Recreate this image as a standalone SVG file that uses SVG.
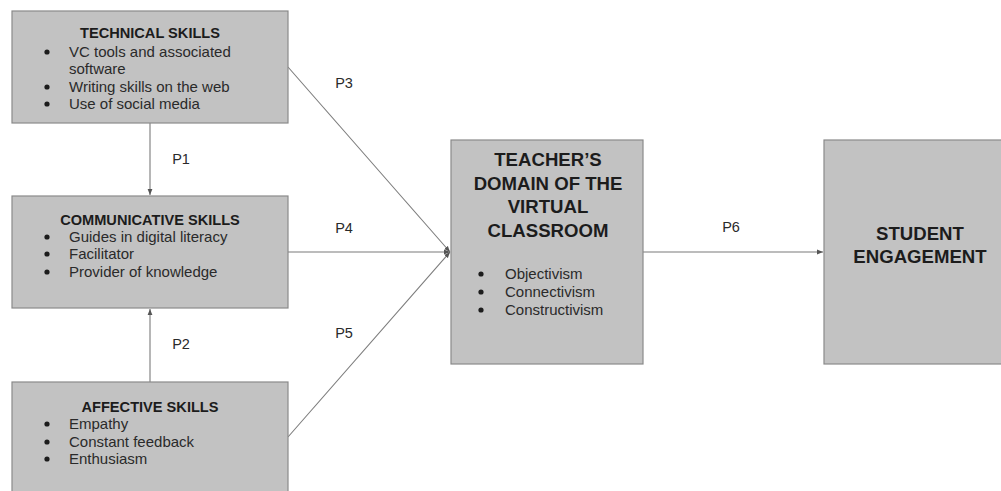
<svg xmlns="http://www.w3.org/2000/svg" width="1001" height="491" viewBox="0 0 1001 491">
  <defs>
    <marker id="arrow" viewBox="0 0 6 6" refX="6" refY="3" markerWidth="6" markerHeight="6" orient="auto" markerUnits="userSpaceOnUse">
      <path d="M0,0.6 L6,3 L0,5.4 z" fill="#555"/>
    </marker>
    <style>
      .box { fill: #c2c2c2; stroke: #8a8a8a; stroke-width: 1.2; }
      .title { font-family: "Liberation Sans", Arial, sans-serif; font-weight: bold; font-size: 14.6px; fill: #1c1c1c; text-anchor: middle; }
      .big { font-family: "Liberation Sans", Arial, sans-serif; font-weight: bold; font-size: 18.6px; fill: #1c1c1c; text-anchor: middle; }
      .item { font-family: "Liberation Sans", Arial, sans-serif; font-size: 15px; fill: #2a2a2a; }
      .dot { fill: #1c1c1c; }
      .lbl { font-family: "Liberation Sans", Arial, sans-serif; font-size: 14.5px; fill: #2a2a2a; text-anchor: middle; }
      .edge { stroke: #7a7a7a; stroke-width: 1.1; fill: none; }
    </style>
  </defs>
  <rect width="1001" height="491" fill="#ffffff"/>

  <!-- connectors -->
  <g id="connectors">
    <line class="edge" x1="150" y1="123" x2="150" y2="195" marker-end="url(#arrow)"/>
    <line class="edge" x1="150" y1="382" x2="150" y2="309" marker-end="url(#arrow)"/>
    <line class="edge" x1="288" y1="67" x2="450" y2="252" marker-end="url(#arrow)"/>
    <line class="edge" x1="288" y1="252" x2="450" y2="252" marker-end="url(#arrow)"/>
    <line class="edge" x1="288" y1="437" x2="450" y2="252" marker-end="url(#arrow)"/>
    <line class="edge" x1="643" y1="252" x2="823" y2="252" marker-end="url(#arrow)"/>
    <text class="lbl" x="181" y="164">P1</text>
    <text class="lbl" x="181" y="349">P2</text>
    <text class="lbl" x="344" y="88">P3</text>
    <text class="lbl" x="344" y="233">P4</text>
    <text class="lbl" x="344" y="338">P5</text>
    <text class="lbl" x="731" y="232">P6</text>
  </g>

  <!-- technical skills -->
  <g id="technical">
    <rect class="box" x="12" y="11" width="276" height="112"/>
    <text class="title" x="150" y="38">TECHNICAL SKILLS</text>
    <circle class="dot" cx="47" cy="52" r="2.6"/>
    <text class="item" x="69" y="57">VC tools and associated</text>
    <text class="item" x="69" y="74">software</text>
    <circle class="dot" cx="47" cy="87" r="2.6"/>
    <text class="item" x="69" y="92">Writing skills on the web</text>
    <circle class="dot" cx="47" cy="104" r="2.6"/>
    <text class="item" x="69" y="109">Use of social media</text>
  </g>

  <!-- communicative skills -->
  <g id="communicative">
    <rect class="box" x="12" y="196" width="276" height="112"/>
    <text class="title" x="150" y="225">COMMUNICATIVE SKILLS</text>
    <circle class="dot" cx="47" cy="237" r="2.6"/>
    <text class="item" x="69" y="242">Guides in digital literacy</text>
    <circle class="dot" cx="47" cy="254" r="2.6"/>
    <text class="item" x="69" y="259">Facilitator</text>
    <circle class="dot" cx="47" cy="272" r="2.6"/>
    <text class="item" x="69" y="277">Provider of knowledge</text>
  </g>

  <!-- affective skills -->
  <g id="affective">
    <rect class="box" x="12" y="382" width="276" height="115"/>
    <text class="title" x="150" y="412">AFFECTIVE SKILLS</text>
    <circle class="dot" cx="47" cy="424" r="2.6"/>
    <text class="item" x="69" y="429">Empathy</text>
    <circle class="dot" cx="47" cy="442" r="2.6"/>
    <text class="item" x="69" y="447">Constant feedback</text>
    <circle class="dot" cx="47" cy="459" r="2.6"/>
    <text class="item" x="69" y="464">Enthusiasm</text>
  </g>

  <!-- teacher's domain -->
  <g id="domain">
    <rect class="box" x="451" y="140" width="192" height="224"/>
    <text class="big" x="548" y="166">TEACHER’S</text>
    <text class="big" x="548" y="190">DOMAIN OF THE</text>
    <text class="big" x="548" y="213">VIRTUAL</text>
    <text class="big" x="548" y="237">CLASSROOM</text>
    <circle class="dot" cx="481" cy="274" r="2.6"/>
    <text class="item" x="505" y="279">Objectivism</text>
    <circle class="dot" cx="481" cy="292" r="2.6"/>
    <text class="item" x="505" y="297">Connectivism</text>
    <circle class="dot" cx="481" cy="310" r="2.6"/>
    <text class="item" x="505" y="315">Constructivism</text>
  </g>

  <!-- student engagement -->
  <g id="engagement">
    <rect class="box" x="824" y="140" width="190" height="224"/>
    <text class="big" x="920" y="240">STUDENT</text>
    <text class="big" x="920" y="263">ENGAGEMENT</text>
  </g>
</svg>
